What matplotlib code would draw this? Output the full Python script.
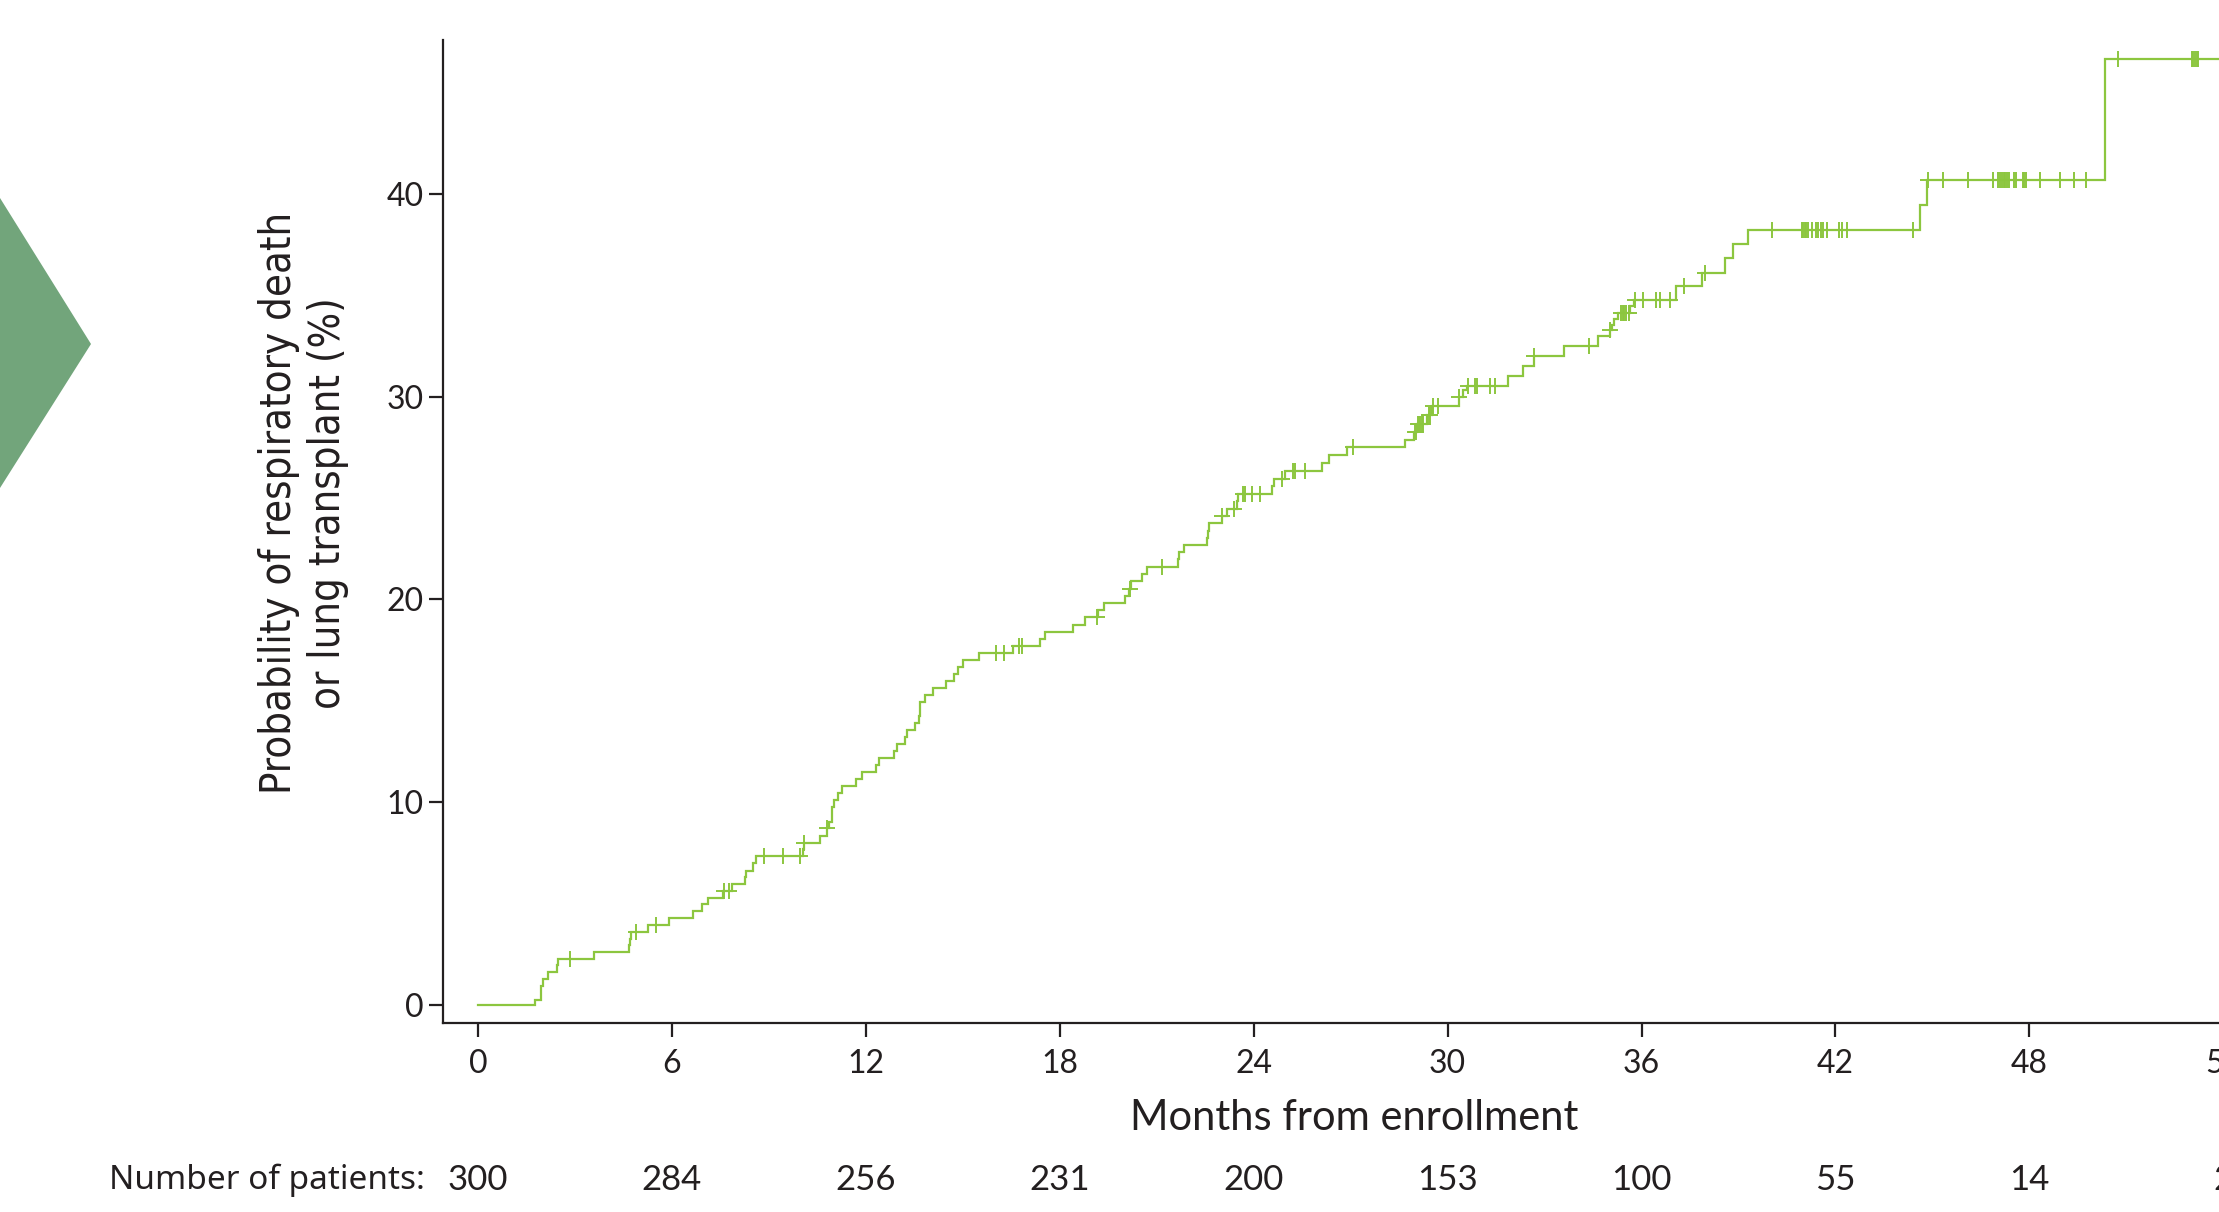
import numpy as np
import matplotlib
matplotlib.use("Agg")
import matplotlib.pyplot as plt
from matplotlib.patches import Polygon
from matplotlib.transforms import blended_transform_factory

# Kaplan-Meier artiges Kumulativ-Inzidenz (Monate, %)
event_times = [0, 1.78, 1.94, 2.00, 2.16, 2.45, 2.49, 3.60, 4.66, 4.70, 4.75, 5.27, 5.91,
               6.65, 6.92, 7.12, 7.59, 7.85, 8.27, 8.30, 8.52, 8.59, 10.07, 10.10, 10.58,
               10.79, 10.87, 10.94, 10.97, 11.01, 11.15, 11.26, 11.70, 11.89, 12.31, 12.42,
               12.86, 12.96, 13.21, 13.27, 13.51, 13.65, 13.67, 13.69, 13.83, 14.09, 14.49,
               14.72, 14.84, 15.02, 15.51, 16.54, 17.39, 17.55, 18.40, 18.77, 19.19, 19.36,
               20.03, 20.15, 20.20, 20.54, 20.70, 21.67, 21.70, 21.85, 22.55, 22.58, 22.61,
               23.03, 23.17, 23.47, 23.50, 24.56, 24.62, 24.98, 26.12, 26.33, 26.88, 28.68,
               28.97, 29.04, 29.35, 29.51, 30.36, 30.49, 30.61, 31.88, 32.34, 32.67, 33.61,
               34.64, 35.03, 35.08, 35.15, 35.28, 35.64, 35.77, 37.06, 37.88, 38.58, 38.82,
               39.28, 44.60, 44.82, 50.33]
cum_inc = [0, 0.25, 0.94, 1.27, 1.60, 1.94, 2.28, 2.60, 2.93, 3.27, 3.60, 3.94, 4.27,
           4.62, 4.95, 5.29, 5.64, 5.98, 6.31, 6.62, 6.98, 7.35, 7.68, 8.00, 8.35,
           8.71, 9.04, 9.39, 9.75, 10.10, 10.44, 10.78, 11.13, 11.48, 11.83, 12.17,
           12.52, 12.87, 13.21, 13.56, 13.91, 14.25, 14.60, 14.96, 15.29, 15.63, 15.98,
           16.32, 16.67, 17.01, 17.36, 17.70, 18.06, 18.41, 18.75, 19.12, 19.46, 19.81,
           20.17, 20.53, 20.90, 21.25, 21.61, 21.98, 22.34, 22.70, 23.04, 23.40, 23.77,
           24.11, 24.47, 24.84, 25.20, 25.58, 25.96, 26.34, 26.73, 27.12, 27.50, 27.89,
           28.27, 28.68, 29.09, 29.57, 30.00, 30.33, 30.55, 31.02, 31.51, 32.00, 32.50,
           32.99, 33.28, 33.53, 33.86, 34.16, 34.48, 34.80, 35.47, 36.13, 36.86, 37.54,
           38.25, 39.48, 40.71, 46.65]
last_followup = 54.0

censor_times = [2.85, 4.88, 5.50, 7.62, 7.78, 8.86, 9.43, 9.98, 10.10, 10.79,
                16.03, 16.27, 16.75, 16.82, 19.16, 20.17, 21.16, 23.03, 23.40, 23.68,
                23.74, 23.96, 24.20, 24.88, 25.23, 25.29, 25.60, 27.08, 28.99, 29.03,
                29.07, 29.11, 29.16, 29.21, 29.25, 29.41, 29.46, 29.56, 29.71, 30.36,
                30.64, 30.85, 30.92, 31.31, 31.47, 32.67, 34.38, 35.03, 35.37, 35.42,
                35.47, 35.52, 35.60, 35.80, 36.04, 36.45, 36.57, 36.88, 37.32, 37.96,
                40.04, 40.96, 41.00, 41.05, 41.10, 41.15, 41.27, 41.40, 41.47, 41.55,
                41.62, 41.73, 42.12, 42.19, 42.35, 44.41, 44.87, 45.34, 46.09, 46.86,
                47.04, 47.10, 47.15, 47.20, 47.25, 47.30, 47.38, 47.52, 47.57, 47.79,
                47.84, 47.89, 48.33, 48.95, 49.39, 49.74, 50.75, 53.02, 53.07, 53.12,
                53.18, 53.23]

month_ticks = [0, 6, 12, 18, 24, 30, 36, 42, 48, 54]
at_risk = [300, 284, 256, 231, 200, 153, 100, 55, 14, 2]

line_col = "#8cc63f"
arrow_col = "#72a57b"
text_col = "#231f20"

W, H = 2219, 1212
fig = plt.figure(figsize=(W / 100, H / 100), dpi=100)
ax_h = 0.811
ax = fig.add_axes([443 / W, 0.1559, (2288 - 443) / W, ax_h])

# Pfeil links (Pixel von oben links)
arrow_px = [(-30, 198 - 30 * 146 / 91), (91, 344), (-30, 488 + 30 * 144 / 91)]
arrow = Polygon([(x / W, 1 - y / H) for x, y in arrow_px], closed=True,
                transform=fig.transFigure, facecolor=arrow_col, edgecolor="none")
fig.patches.append(arrow)

t = np.array(event_times + [last_followup])
v = np.array(cum_inc + [cum_inc[-1]])
ax.step(t, v, where="post", color=line_col, lw=1.6, solid_joinstyle="miter")

ct = np.array(censor_times)
idx = np.searchsorted(np.array(event_times), ct, side="right") - 1
cv = np.array(cum_inc)[idx]
ax.plot(ct, cv, ls="none", marker="+", ms=11, mew=1.4, color=line_col)

ax.set_xlim(-1.08, 56)
ax.set_ylim(-0.9, 47.6)
ax.set_xticks(month_ticks)
ax.set_yticks([0, 10, 20, 30, 40])

for s in ["top", "right"]:
    ax.spines[s].set_visible(False)
for s in ["left", "bottom"]:
    ax.spines[s].set_linewidth(1.6)
    ax.spines[s].set_color(text_col)

reg = "Lato"

ax.tick_params(direction="out", length=10, width=1.6, color=text_col,
               labelcolor=text_col, labelsize=23)
ax.tick_params(axis="x", pad=9)
ax.tick_params(axis="y", pad=4)
for lab in ax.get_xticklabels() + ax.get_yticklabels():
    lab.set_family(reg)

ax.set_xlabel("Months from enrollment", fontsize=30, family=reg, color=text_col)
ax.xaxis.set_label_coords((1354 - 443) / (2288 - 443), -0.077)

ax.set_ylabel("Probability of respiratory death\nor lung transplant (%)", fontsize=30,
              family="DejaVu Sans", fontstretch="condensed", color=text_col,
              linespacing=1.2)
ax.yaxis.set_label_coords((349 - 443) / (2288 - 443), 0.5 + (1023 - ax_h * H / 2 - 503) / (ax_h * H))

# Patientenzahlen
tr = blended_transform_factory(ax.transData, fig.transFigure)
y_row = (H - 1180) / H
for m, n in zip(month_ticks, at_risk):
    ax.text(m, y_row, str(n), transform=tr, ha="center", va="center",
            fontsize=25, family=reg, color=text_col, clip_on=False)
fig.text(425 / W, y_row, "Number of patients:", ha="right", va="center",
         fontsize=24, family="Noto Sans", fontstretch="condensed", color=text_col)

fig.savefig("out.png", dpi=100)
